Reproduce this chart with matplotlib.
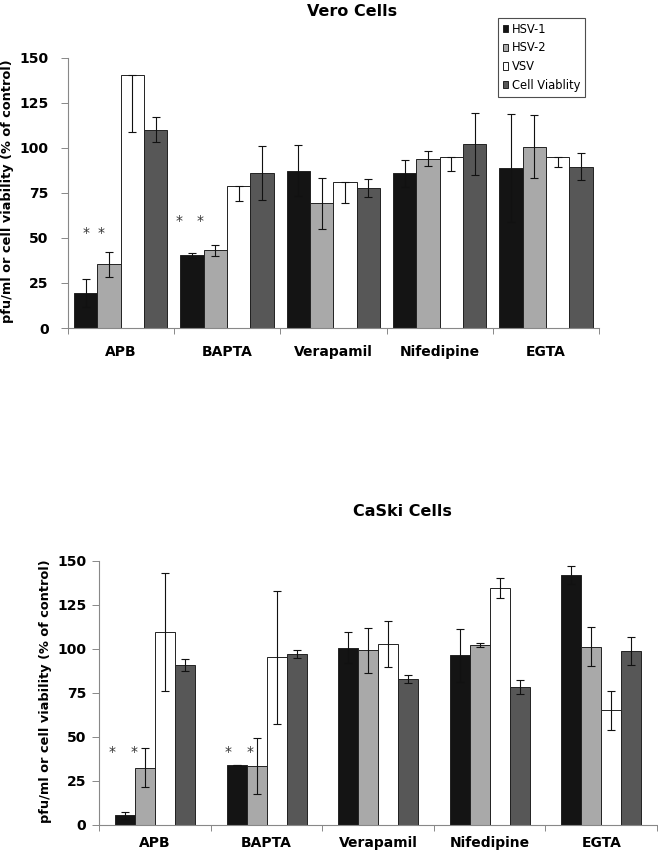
import numpy as np
import matplotlib
matplotlib.use('Agg')
import matplotlib.pyplot as plt

groups = ['APB', 'BAPTA', 'Verapamil', 'Nifedipine', 'EGTA']
series = ['HSV-1', 'HSV-2', 'VSV', 'Cell Viablity']
colors = ['#141414', '#a9a9a9', '#ffffff', '#575757']

# Vero cells (VSV error bars only go down)
vero_hsv1 = [19.5, 40.3, 87.3, 85.7, 88.8]
vero_hsv1_err = [7.6, 1.2, 14.0, 7.7, 30.0]
vero_hsv2 = [35.4, 43.0, 69.1, 94.0, 100.6]
vero_hsv2_err = [7.0, 3.0, 14.0, 4.0, 17.5]
vero_vsv = [140.5, 79.0, 80.9, 94.9, 94.9]
vero_vsv_err = [32.0, 8.7, 11.7, 7.8, 5.5]
vero_cell = [110.0, 85.9, 77.9, 102.1, 89.4]
vero_cell_err = [7.0, 15.0, 5.0, 17.0, 7.4]

# CaSki cells
caski_hsv1 = [5.5, 33.9, 100.8, 96.4, 142.0]
caski_hsv1_err = [2.0, 0.0, 9.0, 15.0, 5.0]
caski_hsv2 = [32.6, 33.5, 99.2, 102.3, 101.3]
caski_hsv2_err = [11.0, 16.0, 12.6, 1.3, 11.0]
caski_vsv = [109.4, 95.3, 102.6, 134.7, 65.2]
caski_vsv_err = [33.5, 37.7, 13.0, 5.6, 11.0]
caski_cell = [91.0, 97.0, 82.9, 78.3, 98.9]
caski_cell_err = [3.3, 2.2, 2.5, 4.0, 8.0]

# significance stars (x relative to group centre, y in data units)
vero_stars_x = [-0.33, -0.18, 0.547, 0.745]
vero_stars_y = [52.6, 52.6, 59.6, 59.6]
caski_stars_x = [-0.389, -0.19, 0.652, 0.849]
caski_stars_y = [41.2, 41.2, 41.2, 41.2]


def draw_panel(ax, values, errors, bar_w, stars_x, stars_y, xpad, ypad):
    x = np.arange(len(groups))
    for i, (vals, err) in enumerate(zip(values, errors)):
        pos = x + (i - 1.5) * bar_w
        ax.bar(pos, vals, bar_w, color=colors[i], edgecolor='#222222',
               linewidth=0.7, label=series[i], zorder=2)
        ax.errorbar(pos, vals, yerr=err, fmt='none', ecolor='#111111',
                    elinewidth=0.8, capsize=3.2, capthick=0.8, zorder=3)
    for sx, sy in zip(stars_x, stars_y):
        ax.text(sx, sy, '*', ha='center', va='center', fontsize=10, color='#333333')

    ax.set_xlim(-0.5, len(groups) - 0.5)
    ax.set_ylim(0, 150)
    ax.set_yticks([0, 25, 50, 75, 100, 125, 150])
    ax.set_xticks(x)
    ax.set_xticklabels(groups, fontweight='bold', fontsize=10)
    ax.set_xticks(np.arange(-0.5, len(groups)), minor=True)
    ax.tick_params(axis='x', which='major', length=0, pad=xpad)
    ax.tick_params(axis='x', which='minor', length=4, color='#888888', width=0.7)
    ax.tick_params(axis='y', length=5, color='#888888', width=0.7, pad=ypad,
                   labelsize=10)
    for lbl in ax.get_yticklabels():
        lbl.set_fontweight('bold')
    for s in ['top', 'right']:
        ax.spines[s].set_visible(False)
    for s in ['left', 'bottom']:
        ax.spines[s].set_color('#888888')
        ax.spines[s].set_linewidth(0.8)
    ax.set_ylabel('pfu/ml or cell viability (% of control)', fontweight='bold', fontsize=9.3)


fig = plt.figure(figsize=(6.58, 8.52), dpi=100)

ax1 = fig.add_axes([0.1026, 0.615, 0.808, 0.3175])
vero_err = [vero_hsv1_err, vero_hsv2_err,
            [vero_vsv_err, [0] * len(vero_vsv_err)], vero_cell_err]
draw_panel(ax1, [vero_hsv1, vero_hsv2, vero_vsv, vero_cell], vero_err,
           0.22, vero_stars_x, vero_stars_y, 12, 8.6)
ax1.yaxis.set_label_coords(-0.1007, 0.506)
fig.text(0.535, 1 - 11 / 852, 'Vero Cells', ha='center', va='center',
         fontweight='bold', fontsize=11.5)
leg = ax1.legend(loc='upper left', bbox_to_anchor=(498 / 658, 1 - 18 / 852),
                 bbox_transform=fig.transFigure, borderaxespad=0, fancybox=False,
                 edgecolor='#222222', fontsize=8.3, handlelength=0.5, handleheight=0.6,
                 handletextpad=0.3, labelspacing=0.5, borderpad=0.4)
leg.get_frame().set_linewidth(0.8)

ax2 = fig.add_axes([0.151, 0.0317, 0.8475, 0.310])
caski_err = [caski_hsv1_err, caski_hsv2_err, caski_vsv_err, caski_cell_err]
draw_panel(ax2, [caski_hsv1, caski_hsv2, caski_vsv, caski_cell], caski_err,
           0.18, caski_stars_x, caski_stars_y, 8, 4.3)
ax2.yaxis.set_label_coords(-0.0848, 0.507)
fig.text(0.611, 1 - 511 / 852, 'CaSki Cells', ha='center', va='center',
         fontweight='bold', fontsize=11.5)

fig.savefig('out.png', dpi=100)
